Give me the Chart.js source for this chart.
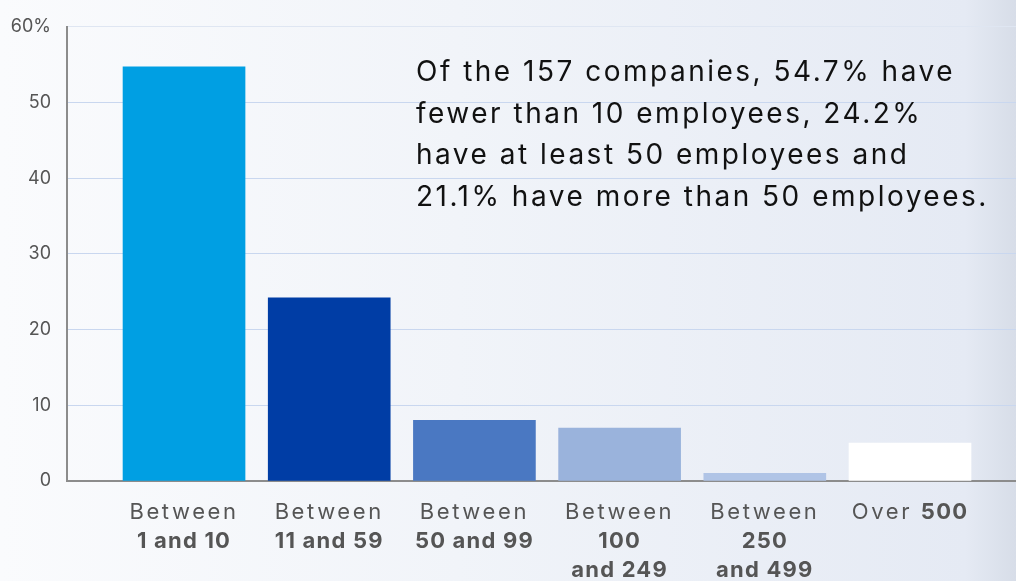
<!DOCTYPE html>
<html>
<head>
<meta charset="utf-8">
<script src="https://cdn.jsdelivr.net/npm/chart.js"></script>
<style>
    html, body {
        margin: 0;
        padding: 0;
        width: 1016px;
        height: 581px;
        overflow: hidden;
        background: linear-gradient(to right, #fafbfd 0%, #f1f4f9 45%, #e5eaf4 95%, #d7dde8 100%);
        font-family: Inter, "Noto Sans", sans-serif;
    }
    canvas { display: block; }
</style>
</head>
<body>
<canvas id="barChart" width="1016" height="581"></canvas>
<script>
// ------------COMPANIES BY NUMBER OF EMPLOYEES------------------ //

// ** marks the bold part of a label, | breaks the line
var xLabels = [
    "Between|**1 and 10**",
    "Between|**11 and 59**",
    "Between|**50 and 99**",
    "Between|**100**|**and 249**",
    "Between|**250**|**and 499**",
    "Over **500**"
];
var yValues = [54.7, 24.2, 8, 7, 1, 5];
var yTicks = [0, 10, 20, 30, 40, 50, 60];
var barColors = ['#009fe3', '#003da5', '#4a78c2', '#9ab3dc', '#b0c4e6', '#ffffff'];
var note = [
    "Of the 157 companies, 54.7% have",
    "fewer than 10 employees, 24.2%",
    "have at least 50 employees and",
    "21.1% have more than 50 employees."
];

var labelFont = 'Inter, "Noto Sans", sans-serif';

function setFont(ctx, bold, size) {
    ctx.font = (bold ? '700 ' : '400 ') + size + 'px ' + labelFont;
    ctx.letterSpacing = bold ? '1.2px' : '2.6px';
}

// draws the two-weight category labels and the note
var textPlugin = {
    id: 'textPlugin',
    afterDraw: function (chart) {
        var ctx = chart.ctx;
        var x = chart.scales.x;
        var bottom = chart.chartArea.bottom;
        ctx.save();
        ctx.textBaseline = 'middle';
        ctx.textAlign = 'left';
        ctx.fillStyle = '#555';
        xLabels.forEach(function (label, i) {
            var cx = x.getPixelForValue(i);
            label.split('|').forEach(function (line, j) {
                var parts = [];
                line.split('**').forEach(function (p, k) {
                    if (p !== '') parts.push({ text: p, bold: k % 2 === 1 });
                });
                var widths = parts.map(function (p) {
                    setFont(ctx, p.bold, 22);
                    return ctx.measureText(p.text).width;
                });
                var total = widths.reduce(function (a, b) { return a + b; }, 0);
                var px = cx - total / 2;
                parts.forEach(function (p, k) {
                    setFont(ctx, p.bold, 22);
                    ctx.fillText(p.text, px, bottom + 31 + j * 29);
                    px += widths[k];
                });
            });
        });

        ctx.fillStyle = '#111';
        ctx.font = '400 28px ' + labelFont;
        ctx.letterSpacing = '2.5px';
        note.forEach(function (line, j) {
            ctx.fillText(line, 416, 73 + j * 41.5);
        });
        ctx.restore();
    }
};

new Chart("barChart", {
    type: "bar",
    data: {
        datasets: [{
            data: yValues.map(function (v, i) { return { x: i, y: v }; }),
            backgroundColor: barColors,
            borderWidth: 0,
            barThickness: 122
        }]
    },
    options: {
        responsive: false,
        animation: false,
        layout: { padding: { top: 26, right: 0, left: 0, bottom: 0 } },
        plugins: {
            legend: { display: false },
            tooltip: { enabled: false }
        },
        scales: {
            x: {
                type: 'linear',
                offset: false,
                min: -0.806,
                max: 5.73,
                afterBuildTicks: function (scale) {
                    scale.ticks = xLabels.map(function (l, i) { return { value: i }; });
                },
                grid: { display: false },
                border: { display: true, color: '#8c8c8c', width: 2 },
                ticks: { display: false },
                afterFit: function (scale) { scale.height = 100; }
            },
            y: {
                min: 0,
                max: 60,
                afterBuildTicks: function (scale) {
                    scale.ticks = yTicks.map(function (v) { return { value: v }; });
                },
                grid: {
                    color: function (c) { return c.tick && c.tick.value === 60 ? '#dfe6f2' : '#c9d7ef'; },
                    lineWidth: 1,
                    drawTicks: false
                },
                border: { display: true, color: '#8c8c8c', width: 2 },
                ticks: {
                    padding: 16,
                    color: '#555',
                    font: { family: labelFont, size: 18 },
                    callback: function (v) { return v === 60 ? v + '%' : v; }
                },
                afterFit: function (scale) { scale.width = 67; }
            }
        }
    },
    plugins: [textPlugin]
});
</script>
</body>
</html>
